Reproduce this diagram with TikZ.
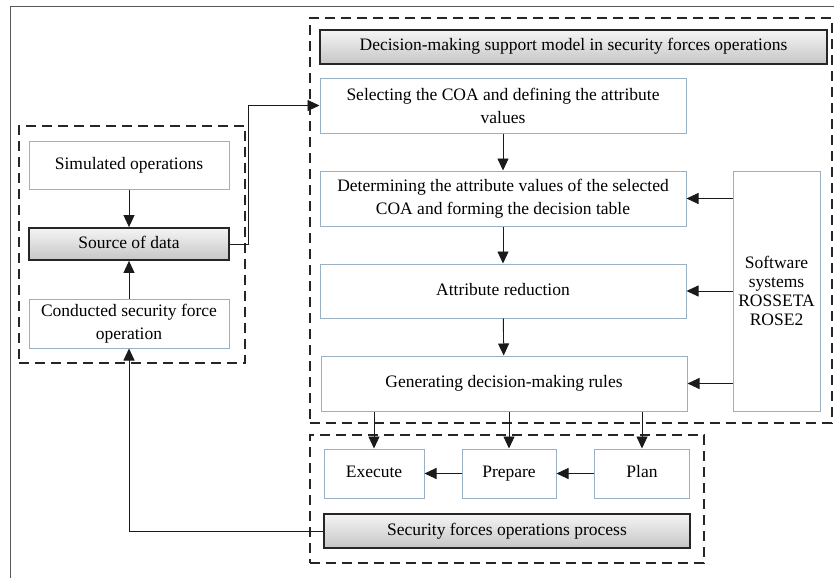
\documentclass[tikz,border=0pt]{standalone}
\usepackage{fontspec}
\setmainfont{Liberation Serif}
\usetikzlibrary{arrows.meta}
\definecolor{boxline}{HTML}{9AB0C4}
\definecolor{lineclr}{HTML}{1A1A1A}
\tikzset{
  every node/.style={font=\fontsize{17.5}{23}\selectfont, align=center, inner sep=0pt},
  oneline/.style={text height=12pt, text depth=4pt},
  plainbox/.style={draw=boxline, line width=1pt, fill=white},
  graybox/.style={draw=black!85, line width=1.8pt, top color=gray!8, bottom color=gray!45, oneline},
  groupbox/.style={draw=black!85, line width=1.6pt, dash pattern=on 10pt off 6pt},
  arr/.style={draw=lineclr, line width=0.9pt, -{Triangle[length=12pt,width=11pt]}},
  conn/.style={draw=lineclr, line width=0.9pt}
}
\begin{document}
\begin{tikzpicture}[x=1pt,y=-1pt]
\useasboundingbox (0,0) rectangle (834,578);
% outer frame (cut at right and bottom)
\draw[draw=black!65, line width=1pt] (10,578) -- (10,7) -- (834,7);
% groups
\node[groupbox, minimum width=226, minimum height=237] (lgroup) at (132,244.5) {};
\node[groupbox, minimum width=522, minimum height=405] (rgroup) at (571,220.5) {};
\node[groupbox, minimum width=394, minimum height=128] (bgroup) at (507,499) {};
% left boxes
\node[plainbox, oneline, minimum width=200, minimum height=48] (sim) at (129,165) {Simulated operations};
\node[graybox, minimum width=200, minimum height=32] (src) at (129,244) {Source of data};
\node[plainbox, minimum width=200, minimum height=49] (cond) at (129,323.5) {Conducted security force\\operation};
% right boxes
\node[graybox, minimum width=507, minimum height=34] (title) at (573.5,47) {Decision-making support model in security forces operations};
\node[plainbox, minimum width=366, minimum height=55] (sel) at (503,105.5) {Selecting the COA and defining the attribute\\values};
\node[plainbox, minimum width=366, minimum height=55] (det) at (503,198.5) {Determining the attribute values of the selected\\COA and forming the decision table};
\node[plainbox, oneline, minimum width=366, minimum height=54] (attr) at (503,291) {Attribute reduction};
\node[plainbox, oneline, minimum width=366, minimum height=55] (gen) at (504,383.5) {Generating decision-making rules};
\node[plainbox, minimum width=87, minimum height=240, font=\fontsize{17.5}{19}\selectfont] (soft) at (776.5,291) {Software\\systems\\ROSSETA\\ROSE2};
% bottom boxes
\node[plainbox, oneline, minimum width=100, minimum height=49] (exec) at (374,473.5) {Execute};
\node[plainbox, oneline, minimum width=94, minimum height=49] (prep) at (509,473.5) {Prepare};
\node[plainbox, oneline, minimum width=95, minimum height=49] (plan) at (642,473.5) {Plan};
\node[graybox, minimum width=366, minimum height=34] (proc) at (507,531) {Security forces operations process};
% connectors
\draw[arr] (sim) -- (src);
\draw[arr] (cond) -- (src);
\draw[arr] (src.east) -- ++(19,0) |- (sel.west);
\draw[arr] (sel) -- (det);
\draw[arr] (det) -- (attr);
\draw[arr] (attr) -- (gen);
\draw[arr] (soft.west |- det) -- (det.east);
\draw[arr] (soft.west |- attr) -- (attr.east);
\draw[arr] (soft.west |- gen) -- (gen.east);
\draw[arr] (gen.south -| exec) -- (exec.north);
\draw[arr] (gen.south -| prep) -- (prep.north);
\draw[arr] (gen.south -| plan) -- (plan.north);
\draw[arr] (plan) -- (prep);
\draw[arr] (prep) -- (exec);
\draw[arr] (proc.west) -| (cond.south);
\end{tikzpicture}
\end{document}
